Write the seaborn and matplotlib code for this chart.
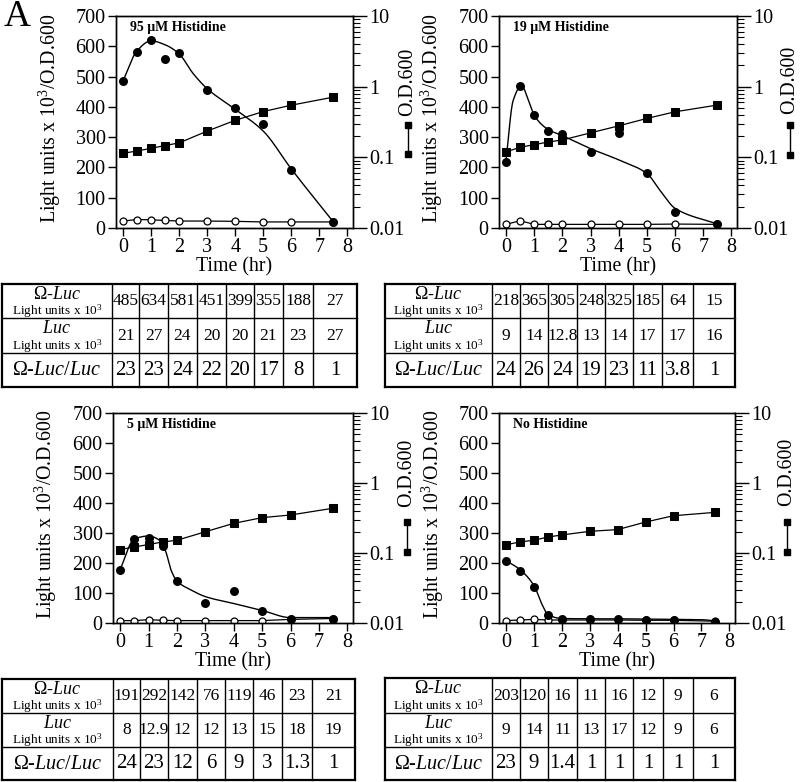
import numpy as np
import pandas as pd
import matplotlib
matplotlib.use("Agg")
import matplotlib.pyplot as plt
import seaborn as sns
from matplotlib.lines import Line2D
from matplotlib.ticker import FixedLocator, FixedFormatter, NullFormatter, LogLocator

# ------------------------------------------------------------------ data
time_hr = [0, 0.5, 1, 1.5, 2, 3, 4, 5, 6, 7.5]

titles = ["95 μM Histidine", "19 μM Histidine", "5 μM Histidine", "No Histidine"]

# Omega-Luc light units x10^3 / OD600 (filled circles)
omega_95 = [486, 582, 621, 558, 578, 455, 395, 343, 191, 21]
omega_19 = [219, 468, 372, 319, 310, 252, 313, 180, 53, 13]
omega_5 = [178, 279, 284, 256, 140, 67, 107, 40, 15, 15]
omega_0 = [208, 175, 119, 26, 12, 12, 12, 9, 9, 5]

# Luc light units x10^3 / OD600 (open circles)
luc_95 = [23, 28, 27, 25, 23, 23, 22, 20, 20, 20]
luc_19 = [12, 24, 12, 12, 12, 12, 12, 12, 13, 12]
luc_5 = [8, 8, 11, 9, 8, 8, 8, 8, 12, 15]
luc_0 = [8, 10, 12, 10, 10, 10, 10, 9, 9, 6]

# OD600 (filled squares, log axis)
od_95 = [0.114, 0.123, 0.134, 0.147, 0.160, 0.235, 0.334, 0.444, 0.547, 0.711]
od_19 = [0.119, 0.139, 0.151, 0.165, 0.176, 0.222, 0.279, 0.355, 0.441, 0.549]
od_5 = [0.112, 0.122, 0.132, 0.144, 0.152, 0.201, 0.265, 0.320, 0.349, 0.436]
od_0 = [0.131, 0.144, 0.152, 0.169, 0.181, 0.204, 0.216, 0.277, 0.341, 0.381]

# smooth fitted curves through the Omega-Luc data (as drawn)
fit_t_95 = [0, 0.5, 1, 1.5, 2, 2.5, 3, 4, 5, 6, 7.5]
fit_v_95 = [486, 585, 618, 605, 575, 510, 460, 392, 320, 195, 20]
fit_t_19 = [0, 0.25, 0.55, 0.8, 1, 1.5, 2, 3, 4, 5, 5.5, 6, 7.5]
fit_v_19 = [225, 420, 470, 420, 372, 325, 305, 262, 225, 180, 120, 65, 13]
fit_t_5 = [0, 0.5, 1, 1.4, 1.6, 1.8, 2, 2.5, 3, 4, 5, 6, 7.5]
fit_v_5 = [178, 280, 290, 275, 240, 175, 140, 110, 88, 65, 42, 18, 18]
fit_t_0 = [0, 0.5, 1, 1.3, 1.5, 2, 3, 4, 5, 6, 7, 7.5]
fit_v_0 = [208, 178, 125, 60, 28, 15, 14, 14, 13, 12, 11, 7]

light_ticks = [0, 100, 200, 300, 400, 500, 600, 700]
od_ticks = [0.01, 0.1, 1, 10]
od_tick_labels = ["0.01", "0.1", "1", "10"]
time_ticks = [0, 1, 2, 3, 4, 5, 6, 7, 8]

# tables
tab_omega_95 = ["485", "634", "581", "451", "399", "355", "188", "27"]
tab_luc_95 = ["21", "27", "24", "20", "20", "21", "23", "27"]
tab_ratio_95 = ["23", "23", "24", "22", "20", "17", "8", "1"]
tab_omega_19 = ["218", "365", "305", "248", "325", "185", "64", "15"]
tab_luc_19 = ["9", "14", "12.8", "13", "14", "17", "17", "16"]
tab_ratio_19 = ["24", "26", "24", "19", "23", "11", "3.8", "1"]
tab_omega_5 = ["191", "292", "142", "76", "119", "46", "23", "21"]
tab_luc_5 = ["8", "12.9", "12", "12", "13", "15", "18", "19"]
tab_ratio_5 = ["24", "23", "12", "6", "9", "3", "1.3", "1"]
tab_omega_0 = ["203", "120", "16", "11", "16", "12", "9", "6"]
tab_luc_0 = ["9", "14", "11", "13", "17", "12", "9", "6"]
tab_ratio_0 = ["23", "9", "1.4", "1", "1", "1", "1", "1"]

row_headers = ["Ω-$\\mathit{Luc}$", "$\\mathit{Luc}$", "Ω-$\\mathit{Luc}$/$\\mathit{Luc}$"]
row_sub = "Light units x 10$^3$"

# ------------------------------------------------------------------ style
sns.set_theme(style="ticks")
plt.rcParams.update({
    "font.family": ["Liberation Serif", "DejaVu Serif"],
    "mathtext.fontset": "custom",
    "mathtext.rm": "Liberation Serif",
    "mathtext.it": "Liberation Serif:italic",
    "mathtext.bf": "Liberation Serif:bold",
    "axes.edgecolor": "black",
    "axes.labelcolor": "black",
    "text.color": "black",
    "xtick.color": "black",
    "ytick.color": "black",
    "axes.linewidth": 1.0,
    "xtick.direction": "out",
    "ytick.direction": "out",
})

W, H = 800, 782
fig = plt.figure(figsize=(W / 100, H / 100), dpi=100)
fig.patch.set_facecolor("white")

TICK_FS = 14.5
LABEL_FS = 14.3


def px_rect(l, t, r, b):
    return [l / W, 1 - b / H, (r - l) / W, (b - t) / H]


def pchip(x, y, xn):
    x = np.asarray(x, float)
    y = np.asarray(y, float)
    h = np.diff(x)
    d = np.diff(y) / h
    m = np.zeros_like(y)
    for k in range(1, len(x) - 1):
        if d[k - 1] * d[k] > 0:
            w1 = 2 * h[k] + h[k - 1]
            w2 = h[k] + 2 * h[k - 1]
            m[k] = (w1 + w2) / (w1 / d[k - 1] + w2 / d[k])
    m[0] = d[0]
    m[-1] = d[-1]
    idx = np.clip(np.searchsorted(x, xn) - 1, 0, len(h) - 1)
    t = (xn - x[idx]) / h[idx]
    h00 = 2 * t**3 - 3 * t**2 + 1
    h10 = t**3 - 2 * t**2 + t
    h01 = -2 * t**3 + 3 * t**2
    h11 = t**3 - t**2
    return h00 * y[idx] + h10 * h[idx] * m[idx] + h01 * y[idx + 1] + h11 * h[idx] * m[idx + 1]


def draw_panel(rect, title, omega, luc, od, fit_t, fit_v, xlab_y):
    ax = fig.add_axes(px_rect(*rect))
    ax2 = ax.twinx()
    ax.set_zorder(1)
    ax2.set_zorder(2)
    ax2.patch.set_visible(False)
    ax.patch.set_visible(False)

    df = pd.DataFrame({"t": time_hr, "omega": omega, "luc": luc, "od": od})
    tt = np.linspace(min(fit_t), max(fit_t), 400)
    fit_df = pd.DataFrame({"t": tt, "v": pchip(fit_t, fit_v, tt)})

    # open circles (Luc)
    sns.lineplot(data=df, x="t", y="luc", ax=ax, color="black", lw=0.9,
                 marker="o", markersize=5, markerfacecolor="white",
                 markeredgecolor="black", markeredgewidth=0.9, sort=True)
    # smooth fit curve
    sns.lineplot(data=fit_df, x="t", y="v", ax=ax, color="black", lw=1.0)
    # filled circles (Omega-Luc)
    sns.scatterplot(data=df, x="t", y="omega", ax=ax, color="black", s=42,
                    marker="o", edgecolor="black", linewidth=0, zorder=5)
    # squares OD600
    sns.lineplot(data=df, x="t", y="od", ax=ax2, color="black", lw=0.9,
                 marker="s", markersize=5.5, markerfacecolor="black",
                 markeredgecolor="black")

    ax.set_xlim(-0.25, 8.2)
    ax.set_ylim(0, 700)
    ax.set_yticks(light_ticks)
    ax.set_xticks(time_ticks)
    ax.tick_params(axis="both", which="major", labelsize=TICK_FS, length=6,
                   width=1, pad=1.5)
    ax.tick_params(axis="y", right=False)
    ax.set_xlabel("Time (hr)", fontsize=LABEL_FS, va="top")
    ax.set_ylabel("Light units x 10$^3$/O.D.600", fontsize=LABEL_FS)
    ax.yaxis.set_label_coords(-0.225, 0.515)
    ax.xaxis.set_label_coords(0.5, xlab_y)

    ax2.set_yscale("log")
    ax2.set_ylim(0.01, 10)
    ax2.yaxis.set_major_locator(FixedLocator(od_ticks))
    ax2.yaxis.set_major_formatter(FixedFormatter(od_tick_labels))
    ax2.yaxis.set_minor_locator(LogLocator(base=10, subs=np.arange(2, 10)))
    ax2.yaxis.set_minor_formatter(NullFormatter())
    ax2.tick_params(axis="y", which="major", labelsize=TICK_FS, length=10,
                    width=1, pad=1.5)
    ax2.tick_params(axis="y", which="minor", length=5, width=0.8)
    ax2.set_ylabel("")
    ax2.set_xlabel("")

    for a in (ax, ax2):
        for s in a.spines.values():
            s.set_visible(True)
            s.set_linewidth(1.0)
            s.set_color("black")

    ax.text(0.06, 0.945, title, transform=ax.transAxes, fontsize=10,
            fontweight="bold", ha="left", va="center")
    return ax, ax2


def od_label(x, ytext, ysq1, ysq2):
    fig.text(x / W, 1 - ytext / H, "O.D.600", rotation=90, fontsize=LABEL_FS,
             ha="center", va="center")
    fig.add_artist(Line2D([x / W, x / W], [1 - ysq1 / H, 1 - ysq2 / H],
                          transform=fig.transFigure, color="black", lw=1.0,
                          marker="s", markersize=5, markerfacecolor="black"))


def draw_table(cols, rows, omega_vals, luc_vals, ratio_vals):
    l, r = cols[0], cols[-1]
    t, b = rows[0], rows[-1]
    ax = fig.add_axes(px_rect(l, t, r, b))
    ax.set_xlim(l, r)
    ax.set_ylim(b, t)
    ax.axis("off")
    for y in rows:
        lw = 1.6 if y in (rows[0], rows[-1]) else 1.0
        ax.plot([l, r], [y, y], color="black", lw=lw, clip_on=False,
                solid_capstyle="projecting")
    for x in cols:
        lw = 1.6 if x in (cols[0], cols[-1]) else 1.0
        ax.plot([x, x], [t, b], color="black", lw=lw, clip_on=False,
                solid_capstyle="projecting")
    hx = (cols[0] + cols[1]) / 2
    for i in range(3):
        y0, y1 = rows[i], rows[i + 1]
        rh = y1 - y0
        if i < 2:
            ax.text(hx, y0 + 0.31 * rh, row_headers[i], fontsize=13,
                    ha="center", va="center")
            ax.text(hx, y0 + 0.80 * rh, row_sub, fontsize=9.5,
                    ha="center", va="center")
        else:
            ax.text(hx, y0 + 0.52 * rh, row_headers[i], fontsize=14.5,
                    ha="center", va="center")
    for j in range(8):
        cx = (cols[j + 1] + cols[j + 2]) / 2
        for i, vals in enumerate((omega_vals, luc_vals, ratio_vals)):
            y0, y1 = rows[i], rows[i + 1]
            fs = 12.5 if i < 2 else 15
            ax.text(cx, (y0 + y1) / 2 + 0.5, vals[j], fontsize=fs,
                    ha="center", va="center")


# panels
draw_panel((116, 16, 353, 228), titles[0], omega_95, luc_95, od_95, fit_t_95, fit_v_95, -0.138)
draw_panel((499, 16, 737, 228), titles[1], omega_19, luc_19, od_19, fit_t_19, fit_v_19, -0.138)
draw_panel((113, 413, 353, 623), titles[2], omega_5, luc_5, od_5, fit_t_5, fit_v_5, -0.14)
draw_panel((499, 413, 735, 623), titles[3], omega_0, luc_0, od_0, fit_t_0, fit_v_0, -0.14)

od_label(408, 82, 125, 154)
od_label(790, 80, 125, 155)
od_label(407, 473, 522, 552)
od_label(787, 472, 522, 552)

fig.text(4 / W, 1 - 17 / H, "A", fontsize=27, ha="left", va="center")

# tables
draw_table([2, 112, 139, 168, 197, 226, 254, 283, 313, 357], [284, 318, 353, 387],
           tab_omega_95, tab_luc_95, tab_ratio_95)
draw_table([385, 492, 520, 548, 577, 605, 633, 662, 693, 735], [284, 318, 353, 387],
           tab_omega_19, tab_luc_19, tab_ratio_19)
draw_table([2, 113, 140, 168, 197, 225, 253, 282, 312, 355], [679, 713, 747, 780],
           tab_omega_5, tab_luc_5, tab_ratio_5)
draw_table([385, 492, 520, 548, 577, 605, 633, 663, 693, 735], [678, 713, 747, 780],
           tab_omega_0, tab_luc_0, tab_ratio_0)

fig.savefig("out.png", dpi=100, facecolor="white")
